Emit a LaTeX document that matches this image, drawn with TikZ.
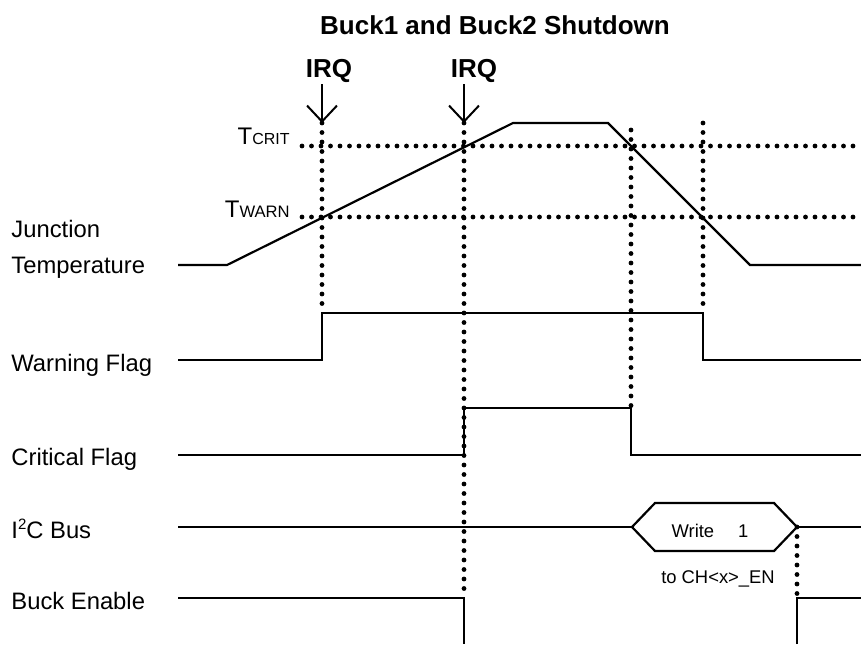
\documentclass[tikz,border=0pt]{standalone}
\usepackage{fontspec}
\setmainfont{Liberation Sans}
\usetikzlibrary{arrows.meta}

\begin{document}
\begin{tikzpicture}
	[x=0.5pt,y=-0.5pt,
		signal/.style={black,line width=1.1pt,line join=miter},
		guide/.style={black,line width=2.4pt,line cap=round,dash pattern=on 0pt off 4.75pt},
		irq arrow/.style={-{Straight Barb[length=8pt,width=15pt]},black,line width=1pt},
		sig label/.style={anchor=base west,inner sep=0pt,font=\fontsize{11.9}{14}\selectfont},
		lvl label/.style={anchor=base east,inner sep=0pt,font=\fontsize{12}{14}\selectfont},
		bold label/.style={anchor=base,inner sep=0pt,font=\fontsize{13}{15}\selectfont\bfseries},
		small label/.style={anchor=base,inner sep=0pt,font=\fontsize{9.2}{11}\selectfont}]
	\useasboundingbox (0,0) rectangle (861,644);
	\node[bold label] (title) at (495,34) {Buck1 and Buck2 Shutdown};
	\node[bold label] (irqA) at (329,77) {IRQ};
	\node[bold label] (irqB) at (474,77) {IRQ};
	\node[lvl label] (tcrit) at (290,144) {T{\fontsize{8}{9}\selectfont CRIT}};
	\node[lvl label] (twarn) at (290,217) {T{\fontsize{8.3}{9}\selectfont WARN}};
	\node[sig label] (lj) at (11,237) {Junction};
	\node[sig label] (lt) at (11,273) {Temperature};
	\node[sig label] (lw) at (11,371) {Warning Flag};
	\node[sig label] (lc) at (11,465) {Critical Flag};
	\node[sig label] (li) at (11,538) {I{\fontsize{7.5}{9}\selectfont\raisebox{4.2pt}{2}}C Bus};
	\node[sig label] (le) at (11,609) {Buck Enable};
	\coordinate (A) at (322,123);
	\coordinate (B) at (464,123);
	\coordinate (C) at (631,130);
	\coordinate (D) at (703,123);
	\coordinate (T0) at (178,265);
	\coordinate (T1) at (227,265);
	\coordinate (T2) at (513,123);
	\coordinate (T3) at (608,123);
	\coordinate (T4) at (750,265);
	\coordinate (T5) at (861,265);
	\coordinate (H0) at (178,527);
	\coordinate (HL) at (632,527);
	\coordinate (HTL) at (655,503);
	\coordinate (HTR) at (774,503);
	\coordinate (HR) at (797,527);
	\coordinate (HBR) at (774,551);
	\coordinate (HBL) at (655,551);
	\coordinate (H1) at (861,527);
	% guides
	\draw[guide] (302,146) -- (861,146);
	\draw[guide] (302,217) -- (861,217);
	\draw[guide] (A) -- (322,313);
	\draw[guide] (B) -- (464,598);
	\draw[guide] (C) -- (631,408);
	\draw[guide] (D) -- (703,313);
	\draw[guide] (HR) -- (797,598);
	\draw[irq arrow] (322,84) -- (A);
	\draw[irq arrow] (464,84) -- (B);
	% waveforms
	\draw[signal] (T0) -- (T1) -- (T2) -- (T3) -- (T4) -- (T5);
	\draw[signal] (178,360) -- (322,360) -- (322,313) -- (703,313) -- (703,360) -- (861,360);
	\draw[signal] (178,455) -- (464,455) -- (464,408) -- (631,408) -- (631,455) -- (861,455);
	\draw[signal] (H0) -- (HL);
	\draw[signal] (HL) -- (HTL) -- (HTR) -- (HR) -- (HBR) -- (HBL) -- cycle;
	\draw[signal] (HR) -- (H1);
	\node[small label] (wr) at (710,537) {Write\hspace{12pt}1};
	\node[small label] (to) at (718,583) {to CH<x>\_EN};
	\draw[signal] (178,598) -- (464,598) -- (464,644);
	\draw[signal] (797,644) -- (797,598) -- (861,598);
\end{tikzpicture}
\end{document}
